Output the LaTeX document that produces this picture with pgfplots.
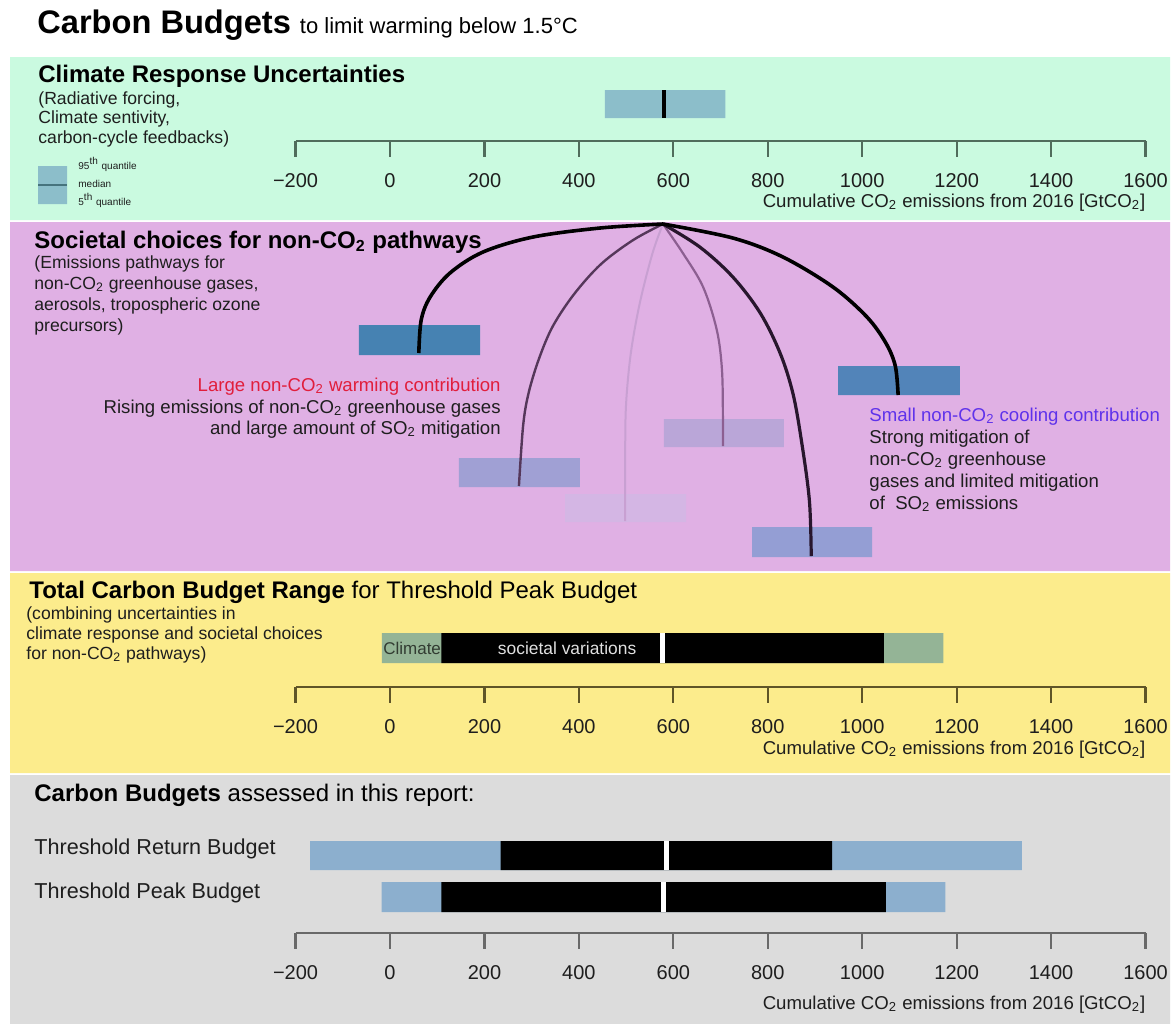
\documentclass[border=0pt]{standalone}
\usepackage{fontspec}
\setmainfont{Liberation Sans}
\usepackage{pgfplots}
\pgfplotsset{compat=1.18}

\definecolor{mintbg}{RGB}{202,250,224}
\definecolor{purpbg}{RGB}{224,176,228}
\definecolor{yellbg}{RGB}{252,236,140}
\definecolor{greybg}{RGB}{220,220,220}
\definecolor{climbar}{RGB}{140,190,202}
\definecolor{climmed}{RGB}{70,115,125}
\definecolor{darkbar}{RGB}{70,130,178}
\definecolor{darkbarb}{RGB}{82,132,185}
\definecolor{lilac}{RGB}{160,160,212}
\definecolor{lilacmid}{RGB}{186,166,216}
\definecolor{lilacpale}{RGB}{212,182,228}
\definecolor{lilacblue}{RGB}{148,158,212}
\definecolor{climgreen}{RGB}{148,180,150}
\definecolor{budblue}{RGB}{140,175,206}
\definecolor{txt}{RGB}{30,30,30}
\definecolor{warmred}{RGB}{225,30,60}
\definecolor{coolblue}{RGB}{95,50,235}
\definecolor{axmint}{RGB}{80,108,92}
\definecolor{axyell}{RGB}{95,85,40}
\definecolor{axgrey}{RGB}{105,105,105}

\newcommand{\fs}[1]{\fontsize{#1}{#1}\selectfont}
\newcommand{\ctwo}{CO\textsubscript{2}}

\pgfplotsset{
  tickax/.style={
    anchor=south west, width=425pt, height=10pt, scale only axis,
    xmin=-200, xmax=1600, ymin=0, ymax=1,
    axis x line*=bottom, axis y line=none,
    xtick={-200,0,200,400,600,800,1000,1200,1400,1600},
    xticklabels={−200,0,200,400,600,800,1000,1200,1400,1600},
    tick align=outside, major tick length=8pt,
    x axis line style={line width=1.1pt, draw=#1},
    every tick/.style={line width=1.1pt, draw=#1},
    xticklabel style={font=\fs{10}, text=txt, yshift=-4.5pt},
  },
}
\tikzset{lbl/.style={anchor=base west, inner sep=0pt, text=txt}}

\begin{document}
\begin{tikzpicture}
\begin{axis}[
  width=587.5pt, height=512pt, scale only axis,
  xmin=-825.9, xmax=1662.3, ymin=0, ymax=1024, y dir=reverse,
  hide axis, clip=false,
]
% white page, so that the picture keeps the full size
\addplot[fill=white, draw=none] coordinates {(-825.9,0) (1662.3,0) (1662.3,1024) (-825.9,1024) (-825.9,0)};
% panel backgrounds
\addplot[fill=mintbg, draw=none] coordinates {(-804.7,57) (1651.8,57) (1651.8,220) (-804.7,220) (-804.7,57)};
\addplot[fill=purpbg, draw=none] coordinates {(-804.7,222) (1651.8,222) (1651.8,571) (-804.7,571) (-804.7,222)};
\addplot[fill=yellbg, draw=none] coordinates {(-804.7,573) (1651.8,573) (1651.8,773) (-804.7,773) (-804.7,573)};
\addplot[fill=greybg, draw=none] coordinates {(-804.7,775) (1651.8,775) (1651.8,1024) (-804.7,1024) (-804.7,775)};

% climate response range
\addplot[fill=climbar, draw=none] coordinates {(455,90) (710,90) (710,118) (455,118) (455,90)};
\addplot[black, line width=2pt] coordinates {(580,90) (580,118)};

% legend of the quantile bar
\addplot[fill=climbar, draw=none] coordinates {(-745.4,166) (-684,166) (-684,204) (-745.4,204) (-745.4,166)};
\addplot[climmed, line width=1.1pt] coordinates {(-745.4,185) (-684,185)};

% societal choices: ranges
\addplot[fill=darkbar, draw=none] coordinates {(-66,325) (191,325) (191,355) (-66,355) (-66,325)};
\addplot[fill=darkbarb, draw=none] coordinates {(949,366) (1207,366) (1207,395) (949,395) (949,366)};
\addplot[fill=lilacmid, draw=none] coordinates {(580,419) (834,419) (834,447) (580,447) (580,419)};
\addplot[fill=lilac, draw=none] coordinates {(146,458) (402,458) (402,487) (146,487) (146,458)};
\addplot[fill=lilacpale, draw=none] coordinates {(371,494) (627,494) (627,522) (371,522) (371,494)};
\addplot[fill=lilacblue, draw=none] coordinates {(767,527) (1021,527) (1021,557) (767,557) (767,527)};

% societal choices: pathways from the climate median
\addplot[smooth, tension=0.55, color={rgb,255:red,200;green,160;blue,210}, line width=1pt]
  coordinates {(578,224) (556,253) (529,303) (510,353) (500,403) (498,450) (498,521)};
\addplot[smooth, tension=0.55, color={rgb,255:red,140;green,95;blue,145}, line width=1.1pt]
  coordinates {(578,224) (620,253) (663,287) (692,330) (703,370) (705,420) (705,446)};
\addplot[smooth, tension=0.55, color={rgb,255:red,85;green,55;blue,90}, line width=1.2pt]
  coordinates {(578,224) (515,240) (447,264) (390,294) (345,326) (316,358) (294,392) (282,425) (273,486)};
\addplot[smooth, tension=0.55, color={rgb,255:red,40;green,22;blue,45}, line width=1.6pt]
  coordinates {(578,224) (656,247) (726,277) (784,313) (826,353) (853,393) (871,440) (888,500) (892,556)};
\addplot[smooth, tension=0.55, black, line width=1.8pt]
  coordinates {(578,224) (445,228) (303,237) (197,252) (127,273) (85,297) (66,320) (61,353)};
\addplot[smooth, tension=0.55, black, line width=1.8pt]
  coordinates {(578,224) (726,238) (832,257) (938,287) (1010,317) (1050,343) (1070,366) (1076,395)};

% total range for threshold peak budget
\addplot[fill=climgreen, draw=none] coordinates {(-17,633) (1172,633) (1172,663) (-17,663) (-17,633)};
\addplot[fill=black, draw=none] coordinates {(109,633) (1046,633) (1046,663) (109,663) (109,633)};
\addplot[white, line width=2.5pt] coordinates {(578,633) (578,663)};

% assessed budgets
\addplot[fill=budblue, draw=none] coordinates {(-169,841) (1338,841) (1338,870) (-169,870) (-169,841)};
\addplot[fill=black, draw=none] coordinates {(234,841) (936,841) (936,870) (234,870) (234,841)};
\addplot[white, line width=2.5pt] coordinates {(586,841) (586,870)};
\addplot[fill=budblue, draw=none] coordinates {(-18,882) (1176,882) (1176,912) (-18,912) (-18,882)};
\addplot[fill=black, draw=none] coordinates {(109,882) (1050,882) (1050,912) (109,912) (109,882)};
\addplot[white, line width=2.5pt] coordinates {(580,882) (580,912)};

% texts
\node[lbl, text=black] at (axis cs:-747.6,33) {\fs{16.3}\bfseries Carbon Budgets \fs{11}\mdseries to limit warming below 1.5°C};

\node[lbl, text=black, font=\fs{12}\bfseries] at (axis cs:-745.4,82) {Climate Response Uncertainties};
\node[lbl, font=\fs{8.8}] at (axis cs:-745.4,104) {(Radiative forcing,};
\node[lbl, font=\fs{8.8}] at (axis cs:-745.4,123) {Climate sentivity,};
\node[lbl, font=\fs{8.8}] at (axis cs:-745.4,143) {carbon-cycle feedbacks)};
\node[lbl, font=\fs{5}] at (axis cs:-660.7,169) {95\textsuperscript{th} quantile};
\node[lbl, font=\fs{5}] at (axis cs:-660.7,187) {median};
\node[lbl, font=\fs{5}] at (axis cs:-660.7,205) {5\textsuperscript{th} quantile};
\node[anchor=base east, inner sep=0pt, text=txt, font=\fs{9.3}] at (axis cs:1600,207) {Cumulative \ctwo{} emissions from 2016 [Gt\ctwo]};

\node[lbl, text=black, font=\fs{12}\bfseries] at (axis cs:-753.9,248) {Societal choices for non-\ctwo{} pathways};
\node[lbl, font=\fs{8.8}] at (axis cs:-753.9,268) {(Emissions pathways for};
\node[lbl, font=\fs{8.8}] at (axis cs:-753.9,289) {non-\ctwo{} greenhouse gases,};
\node[lbl, font=\fs{8.8}] at (axis cs:-753.9,310) {aerosols, tropospheric ozone};
\node[lbl, font=\fs{8.8}] at (axis cs:-753.9,331) {precursors)};
\node[anchor=base east, inner sep=0pt, text=warmred, font=\fs{9.3}] at (axis cs:235.1,391) {Large non-\ctwo{} warming contribution};
\node[anchor=base east, inner sep=0pt, text=txt, font=\fs{9.3}] at (axis cs:235.1,413) {Rising emissions of non-\ctwo{} greenhouse gases};
\node[anchor=base east, inner sep=0pt, text=txt, font=\fs{9.3}] at (axis cs:235.1,434) {and large amount of SO\textsubscript{2} mitigation};
\node[lbl, text=coolblue, font=\fs{9.3}] at (axis cs:1014.4,421) {Small non-\ctwo{} cooling contribution};
\node[lbl, font=\fs{9.3}] at (axis cs:1014.4,443) {Strong mitigation of};
\node[lbl, font=\fs{9.3}] at (axis cs:1014.4,465) {non-\ctwo{} greenhouse};
\node[lbl, font=\fs{9.3}] at (axis cs:1014.4,487) {gases and limited mitigation};
\node[lbl, font=\fs{9.3}] at (axis cs:1014.4,509) {of~ SO\textsubscript{2} emissions};

\node[lbl, text=black, font=\fs{12}] at (axis cs:-764.5,598) {\bfseries Total Carbon Budget Range \mdseries for Threshold Peak Budget};
\node[lbl, font=\fs{8.8}] at (axis cs:-770.9,619) {(combining uncertainties in};
\node[lbl, font=\fs{8.8}] at (axis cs:-770.9,639) {climate response and societal choices};
\node[lbl, font=\fs{8.8}] at (axis cs:-770.9,659) {for non-\ctwo{} pathways)};
\node[anchor=west, inner sep=0pt, text={rgb,255:red,50;green,60;blue,50}, font=\fs{8.5}] at (axis cs:-15,648) {Climate};
\node[anchor=center, inner sep=0pt, text=white!88!black, font=\fs{8.7}] at (axis cs:375,648) {societal variations};
\node[anchor=base east, inner sep=0pt, text=txt, font=\fs{9.3}] at (axis cs:1600,754) {Cumulative \ctwo{} emissions from 2016 [Gt\ctwo]};

\node[lbl, text=black, font=\fs{12}] at (axis cs:-753.9,801) {\bfseries Carbon Budgets \mdseries assessed in this report:};
\node[lbl, font=\fs{10.8}] at (axis cs:-753.9,854) {Threshold Return Budget};
\node[lbl, font=\fs{10.8}] at (axis cs:-753.9,898) {Threshold Peak Budget};
\node[anchor=base east, inner sep=0pt, text=txt, font=\fs{9.3}] at (axis cs:1600,1009) {Cumulative \ctwo{} emissions from 2016 [Gt\ctwo]};

\coordinate (t1) at (axis cs:-200,141);
\coordinate (t2) at (axis cs:-200,687);
\coordinate (t3) at (axis cs:-200,933);
\end{axis}

\begin{axis}[tickax=axmint, at={(t1)}]
\end{axis}
\begin{axis}[tickax=axyell, at={(t2)}]
\end{axis}
\begin{axis}[tickax=axgrey, at={(t3)}]
\end{axis}
\end{tikzpicture}
\end{document}
